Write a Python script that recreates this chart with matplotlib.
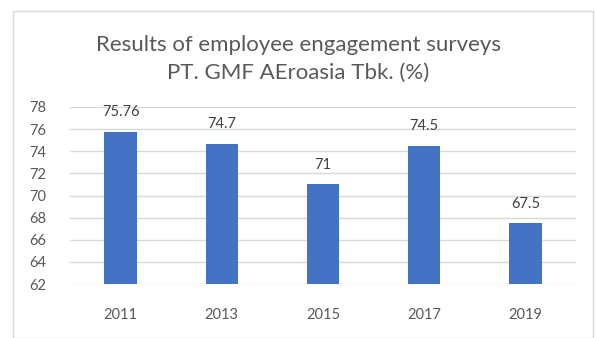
import matplotlib.pyplot as plt
from matplotlib.patches import Rectangle

years = ['2011', '2013', '2015', '2017', '2019']
scores = [75.76, 74.7, 71, 74.5, 67.5]
score_labels = ['75.76', '74.7', '71', '74.5', '67.5']

plt.rcParams['font.family'] = ['Lato', 'DejaVu Sans']

fig = plt.figure(figsize=(5.96, 3.38), dpi=100)
W, H = 596, 338

# rand van de grafiek
fig.patches.append(Rectangle((13 / W, 0), (593 - 13) / W, 1 - 11 / H,
                             transform=fig.transFigure, fill=False,
                             edgecolor='#d9d9d9', linewidth=1))

ax = fig.add_axes([70 / W, 1 - 284 / H, (576 - 70) / W, (284 - 107) / H])

x = range(len(years))
ax.bar(x, [s - 62 for s in scores], bottom=62, width=0.32, color='#4472C4', zorder=3)

for i, (s, lab) in enumerate(zip(scores, score_labels)):
    ax.annotate(lab, (i, s), xytext=(0, 9), textcoords='offset points',
                ha='center', va='bottom', fontsize=10.5, color='#404040')

ax.set_xlim(-0.5, len(years) - 0.5)
ax.set_ylim(62, 78)
ax.set_yticks(range(62, 79, 2))
ax.set_xticks(list(x))
ax.set_xticklabels(years)
ax.grid(axis='y', color='#d9d9d9', linewidth=1, zorder=0)
for sp in ax.spines.values():
    sp.set_visible(False)
ax.tick_params(axis='both', length=0, labelsize=10.5, labelcolor='#595959')
ax.tick_params(axis='y', pad=17)
ax.tick_params(axis='x', pad=17)

fig.text(0.5, 1 - 45 / H, 'Results of employee engagement surveys',
         ha='center', va='center', fontsize=16, color='#595959')
fig.text(0.5, 1 - 73 / H, 'PT. GMF AEroasia Tbk. (%)',
         ha='center', va='center', fontsize=16, color='#595959')

fig.savefig('out.png', dpi=100)
